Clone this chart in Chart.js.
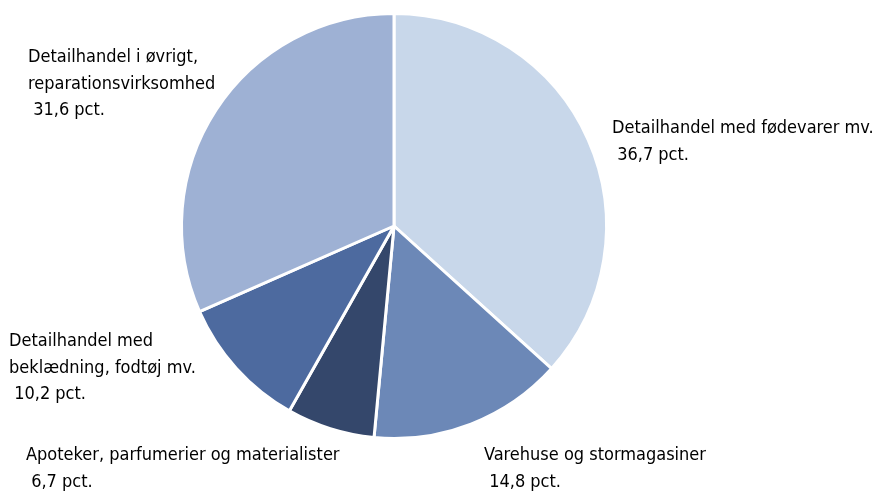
<!DOCTYPE html>
<html>
<head>
<meta charset="utf-8">
<script src="https://cdn.jsdelivr.net/npm/chart.js@4.4.0/dist/chart.umd.min.js"></script>
<style>
  html, body { margin: 0; padding: 0; background: #fff; }
  #wrap { width: 874px; height: 492px; position: relative; }
</style>
</head>
<body>
<div id="wrap"><canvas id="pie"></canvas></div>
<script>
// Andel af omsætning, pct.
const categories = [
  ['Detailhandel med fødevarer mv.'],
  ['Varehuse og stormagasiner'],
  ['Apoteker, parfumerier og materialister'],
  ['Detailhandel med', 'beklædning, fodtøj mv.'],
  ['Detailhandel i øvrigt,', 'reparationsvirksomhed']
];
const shares = [36.7, 14.8, 6.7, 10.2, 31.6];
const colors = ['#c8d7ea', '#6c88b7', '#34476b', '#4d6a9f', '#9eb1d4'];

// where each label block starts (left x, first baseline)
const labelPos = [
  [612, 133],
  [484, 460],
  [26, 460],
  [9, 346],
  [28, 62]
];

const FONT = '18px "DejaVu Sans Condensed", sans-serif';
const LINE_H = 26.5;

const pieLabels = {
  id: 'pieLabels',
  afterDraw(chart) {
    const ctx = chart.ctx;
    ctx.save();
    ctx.font = FONT;
    ctx.fillStyle = '#000';
    ctx.textBaseline = 'alphabetic';
    ctx.textAlign = 'left';
    categories.forEach((lines, i) => {
      const [x, y] = labelPos[i];
      const all = lines.concat([' ' + shares[i].toFixed(1).replace('.', ',') + ' pct.']);
      all.forEach((t, j) => ctx.fillText(t, x, Math.round(y + j * LINE_H)));
    });
    ctx.restore();
  }
};

new Chart(document.getElementById('pie'), {
  type: 'pie',
  data: {
    labels: categories.map(c => c.join(' ')),
    datasets: [{
      data: shares,
      backgroundColor: colors,
      borderColor: '#ffffff',
      borderWidth: 3
    }]
  },
  options: {
    responsive: true,
    maintainAspectRatio: false,
    animation: false,
    layout: { padding: { left: 180, right: 266, top: 11, bottom: 51 } },
    plugins: {
      legend: { display: false },
      tooltip: { enabled: false }
    }
  },
  plugins: [pieLabels]
});
</script>
</body>
</html>
